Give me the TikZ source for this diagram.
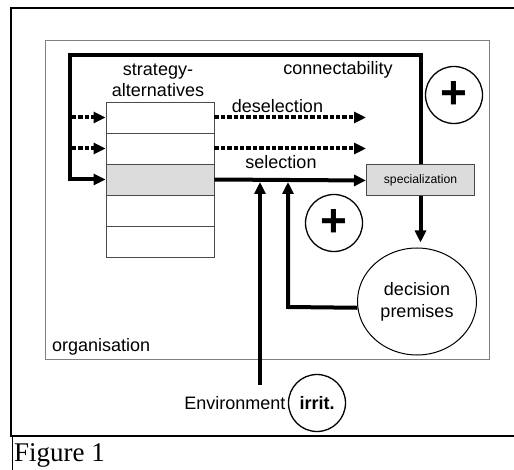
\documentclass[tikz,border=0pt]{standalone}
\usepackage{fontspec}
\setmainfont{Liberation Sans}
\newfontfamily\capfont{Liberation Serif}
\usetikzlibrary{arrows.meta,shapes.geometric}
\definecolor{boxgray}{HTML}{DCDCDC}
\definecolor{linegray}{HTML}{808080}
\definecolor{darkline}{HTML}{4A4A4A}
\tikzset{
  thickarrow/.style={line width=4pt,-{Triangle[length=12pt,width=11pt]}},
  dotarrow/.style={line width=4pt,dash pattern=on 4.3pt off 2.1pt,-{Triangle[length=12pt,width=11pt]}},
  rowbox/.style={draw=darkline,line width=0.9pt,minimum width=108pt,minimum height=31pt,inner sep=0pt},
  plusc/.style={circle,draw,line width=1.3pt,minimum size=57pt,inner sep=0pt,font=\fontsize{46}{46}\selectfont\bfseries},
  lbl/.style={font=\fontsize{18}{22}\selectfont,inner sep=0pt,anchor=base},
}
\begin{document}
\begin{tikzpicture}[x=1pt,y=-1pt]
\useasboundingbox (0,0) rectangle (514,470);
% outer frame and caption
\draw[line width=1.5pt] (514,8) -- (11,8) -- (11,436) -- (514,436);
\draw[line width=1.5pt] (12.5,436) -- (12.5,470);
\node[anchor=base west,inner sep=0pt,font=\capfont\fontsize{27}{30}\selectfont] (fig) at (14,461) {Figure 1};
% organisation box
\draw[linegray,line width=1pt] (45,40.5) rectangle (489,359);
\node[lbl,anchor=base west] (org) at (52,351) {organisation};
% stack
\node[rowbox] (r1) at (160,117.5) {};
\node[rowbox] (r2) at (160,148.5) {};
\node[rowbox,fill=boxgray] (r3) at (160,179.5) {};
\node[rowbox] (r4) at (160,210.5) {};
\node[rowbox] (r5) at (160,241.5) {};
\node[lbl] (strat) at (158,76) {strategy-};
\node[lbl] (alt) at (158,97) {alternatives};
% specialization
\node[draw=darkline,fill=boxgray,line width=1pt,minimum width=108pt,minimum height=31pt,inner sep=0pt,font=\fontsize{12.2}{14}\selectfont] (spec) at (420.5,180.5) {specialization};
% decision premises
\node[ellipse,draw,line width=1pt,minimum width=119pt,minimum height=107pt,inner sep=0pt,align=center,font=\fontsize{18}{22}\selectfont] (dp) at (417,301.5) {decision\\premises};
% circles
\node[plusc] (p1) at (454,95) {+};
\node[plusc] (p2) at (334,223) {+};
\node[circle,draw,line width=1.3pt,minimum size=57pt,inner sep=0pt,font=\fontsize{18}{22}\selectfont\bfseries] (irr) at (317,403) {irrit.};
\node[lbl,anchor=base east] (env) at (285.5,409) {Environment};
% labels
\node[lbl] (conn) at (338,75) {connectability};
\node[lbl] (desel) at (277.5,113) {deselection};
\node[lbl] (sel) at (281,169) {selection};
% coordinates
\coordinate (tl) at (70,55);
\coordinate (bl) at (70,179.5);
\coordinate (d1s) at (72,117.5);
\coordinate (d2s) at (72,148.5);
\coordinate (d1e) at (366,117.5);
\coordinate (d2e) at (366,148.5);
\coordinate (fbc) at (288,307);
\coordinate (fbt) at (288,182);
\coordinate (envs) at (260,385);
\coordinate (envt) at (260,182);
% connectability loop
\draw[thickarrow] (spec.north) |- (tl) -- (bl) -- (r3.west);
% dotted arrows
\draw[dotarrow] (d1s) -- (r1.west);
\draw[dotarrow] (d2s) -- (r2.west);
\draw[dotarrow] (r1.east) -- (d1e);
\draw[dotarrow] (r2.east) -- (d2e);
% selection
\draw[thickarrow] (r3.east) -- (spec.west);
% specialization to premises
\draw[thickarrow,shorten >=5pt] (spec.south) -- (spec.south |- dp.north);
% feedback
\draw[thickarrow] (dp.186) -- (fbc) -- (fbt);
% environment
\draw[thickarrow] (envs) -- (envt);
\end{tikzpicture}
\end{document}
